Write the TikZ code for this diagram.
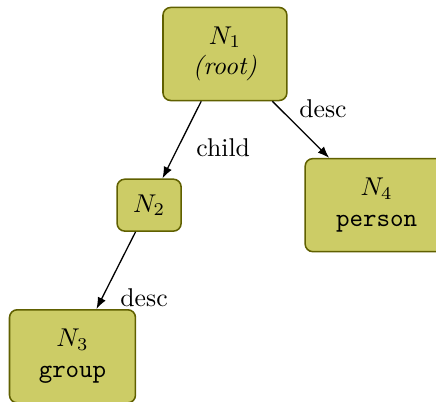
\documentclass[tikz,border=0pt]{standalone}
\usepackage{amsmath}
\usetikzlibrary{arrows.meta}

\begin{document}
\begin{tikzpicture}[
  x=1pt, y=1pt,
  % --- node styles ---
  tn/.style={rectangle, rounded corners=3pt, draw=tnLine, fill=tnFill,
             line width=0.6pt, align=center, inner sep=0pt,
             minimum width=#1, minimum height=36.2pt},
  rel/.style={-{Latex[length=4.5pt,width=3.4pt]}, line width=0.5pt},
  lbl/.style={inner sep=3.3pt},
]
  % --- Colours ---
  \definecolor{tnFill}{RGB}{204,204,102}
  \definecolor{tnLine}{RGB}{96,96,0}

  % --- Page frame ---
  \useasboundingbox (0,0) rectangle (169.6,-156.0);

  % --- Tree nodes ---
  \node[tn=48.2pt] (n1) at (87.5,-21.0)  {$N_1$\\\textit{(root)}};
  \node[tn=24.9pt, minimum height=20.2pt] (n2) at (58.0,-79.8) {$N_2$};
  \node[tn=55.6pt] (n4) at (146.5,-79.8) {$N_4$\\\texttt{person}};
  \node[tn=49.0pt] (n3) at (28.2,-138.6) {$N_3$\\\texttt{group}};

  % --- Relations ---
  \draw[rel] (n1) -- (n2)
    node[lbl, pos=0.36, anchor=north west] {child};
  \draw[rel] (n1) -- (n4)
    node[lbl, pos=0.45, anchor=south west, xshift=-3pt] {desc};
  \draw[rel] (n2) -- (n3)
    node[lbl, pos=0.62, anchor=north west] {desc};
\end{tikzpicture}
\end{document}
